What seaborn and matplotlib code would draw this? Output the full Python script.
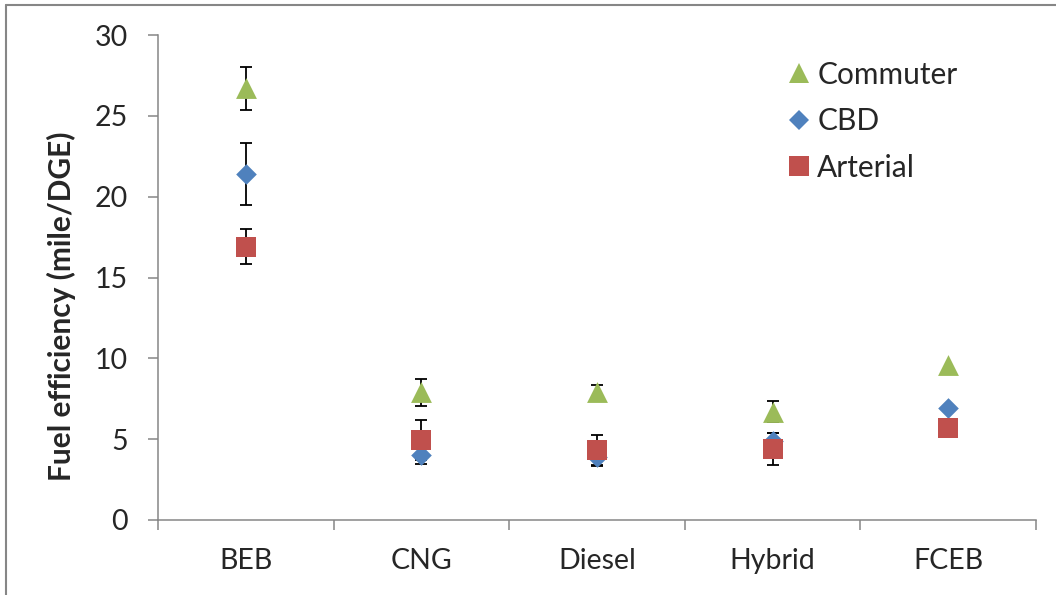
import matplotlib
matplotlib.use("Agg")
import matplotlib.pyplot as plt
import seaborn as sns
import pandas as pd
import numpy as np
from matplotlib.lines import Line2D

# ---- data ----
categories = ["BEB", "CNG", "Diesel", "Hybrid", "FCEB"]
commuter = [26.7, 7.9, 7.9, 6.7, 9.6]
commuter_err = [1.35, 0.83, 0.45, 0.65, 0.0]
cbd = [21.4, 4.0, 3.9, 4.9, 6.9]
cbd_err = [1.9, 0.55, 0.5, 0.5, 0.0]
arterial = [16.9, 4.95, 4.3, 4.4, 5.7]
arterial_err = [1.07, 1.25, 0.95, 1.0, 0.0]
series_names = ["Commuter", "CBD", "Arterial"]
y_ticks = [0, 5, 10, 15, 20, 25, 30]

sns.set_style("white")
plt.rcParams["font.family"] = ["Lato", "DejaVu Sans"]

df = pd.DataFrame({
    "Bus": categories * 3,
    "Route": sum([[n] * len(categories) for n in series_names], []),
    "Value": commuter + cbd + arterial,
    "Err": commuter_err + cbd_err + arterial_err,
})

fig = plt.figure(figsize=(10.56, 5.95), dpi=100)
ax = fig.add_axes([158 / 1056, 1 - 520 / 595, 878 / 1056, 485 / 595])

colors = {"Commuter": "#9BBB59", "CBD": "#4F81BD", "Arterial": "#C0504D"}
markers = {"Commuter": "^", "CBD": "D", "Arterial": "s"}
sizes = {"Commuter": 15.0 ** 2, "CBD": 10.5 ** 2, "Arterial": 14.4 ** 2}
pos = {c: i for i, c in enumerate(categories)}

# error bars (behind markers)
for name in series_names:
    sub = df[df["Route"] == name]
    sub = sub[sub["Err"] > 0]
    ax.errorbar(sub["Bus"].map(pos), sub["Value"], yerr=sub["Err"], fmt="none",
                ecolor="black", elinewidth=1.3, capsize=4.5, capthick=1.3, zorder=2)

for name in series_names:
    sub = df[df["Route"] == name]
    sns.scatterplot(x=sub["Bus"].map(pos), y=sub["Value"], ax=ax, marker=markers[name],
                    color=colors[name], s=sizes[name], linewidth=0, zorder=3,
                    label=name, legend=False)

ax.set_xlim(-0.5, len(categories) - 0.5)
ax.set_ylim(0, 30)
ax.set_yticks(y_ticks)
ax.set_yticklabels([str(t) for t in y_ticks], fontsize=20.5)

ax.set_xticks(np.arange(-0.5, len(categories), 1.0))
ax.set_xticklabels([])
ax.set_xticks(np.arange(len(categories)), minor=True)
ax.set_xticklabels(categories, minor=True, fontsize=20.5)
ax.tick_params(axis="x", which="major", direction="out", length=7.5, width=1.1,
               color="#868686", bottom=True)
ax.tick_params(axis="x", which="minor", length=0, pad=20)
ax.tick_params(axis="y", direction="out", length=7.5, width=1.1, color="#868686",
               left=True, pad=14)

for s in ["top", "right"]:
    ax.spines[s].set_visible(False)
for s in ["left", "bottom"]:
    ax.spines[s].set_color("#868686")
    ax.spines[s].set_linewidth(1.1)

ax.set_xlabel("")
ax.set_ylabel("Fuel efficiency (mile/DGE)", fontsize=21.5, fontweight="bold")
ax.yaxis.set_label_coords(-0.093, 0.44)

handles = [Line2D([], [], linestyle="none", marker=markers[n], color=colors[n],
                  markersize=np.sqrt(sizes[n]), markeredgewidth=0) for n in series_names]
leg = ax.legend(handles, series_names, loc="upper left", bbox_to_anchor=(0.700, 0.972),
                frameon=False, fontsize=21.5, handletextpad=0.1, labelspacing=0.62,
                handlelength=1.0, borderaxespad=0.0)

# chart-area border (top and left only visible in reference)
fig.add_artist(Line2D([6 / 1056, 6 / 1056], [0, 1 - 5 / 595], transform=fig.transFigure,
                      color="#868686", linewidth=1.5))
fig.add_artist(Line2D([6 / 1056, 1], [1 - 5 / 595, 1 - 5 / 595], transform=fig.transFigure,
                      color="#868686", linewidth=1.5))

fig.savefig("out.png", dpi=100)
